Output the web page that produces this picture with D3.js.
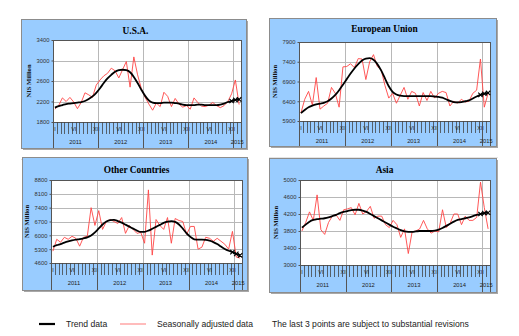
<!DOCTYPE html>
<html>
<head>
<meta charset="utf-8">
<script src="https://cdn.jsdelivr.net/npm/d3@7"></script>
<style>
  body { margin: 0; background: #fff; }
  svg { display: block; }
</style>
</head>
<body>
<div id="chart"></div>
<script>
// monthly categories, Jan 2011 .. Feb 2015
var years = ['2011', '2012', '2013', '2014', '2015'];
var monthsInYear = [12, 12, 12, 12, 2];
var romanLabels = [[0, 'I'], [5, 'VI'], [11, 'XII'], [17, 'VI'], [23, 'XII'],
  [29, 'VI'], [35, 'XII'], [41, 'VI'], [47, 'XII']];

var usaTrend = [2080, 2110, 2130, 2150, 2160, 2170, 2180, 2190, 2210, 2250, 2300, 2370,
  2460, 2560, 2650, 2720, 2780, 2810, 2820, 2810, 2770, 2680, 2560, 2430,
  2310, 2220, 2180, 2170, 2170, 2180, 2180, 2180, 2170, 2160, 2140, 2130,
  2130, 2130, 2140, 2140, 2130, 2130, 2130, 2130, 2140, 2160, 2190, 2210,
  2230, 2240];
var usaSeas = [2050, 2120, 2270, 2200, 2280, 2190, 2060, 2180, 2370, 2330, 2280, 2520,
  2620, 2700, 2750, 2850, 2800, 2660, 2820, 2980, 2480, 3070, 2720, 2450,
  2280, 2150, 2030, 2170, 2100, 2380, 2300, 2100, 2260, 2150, 2090, 2120,
  2050, 2270, 2180, 2110, 2100, 2130, 2180, 2120, 2080, 2120, 2200, 2350,
  2620, 2140];

var euTrend = [6100, 6180, 6250, 6290, 6320, 6340, 6360, 6400, 6470, 6560, 6680, 6820,
  6960, 7100, 7230, 7340, 7430, 7480, 7490, 7450, 7340, 7180, 6980, 6780,
  6640, 6570, 6540, 6530, 6530, 6530, 6530, 6530, 6530, 6530, 6530, 6520,
  6510, 6490, 6450, 6410, 6380, 6370, 6380, 6400, 6420, 6470, 6520, 6560,
  6590, 6610];
var euSeas = [6100, 6450, 6650, 6300, 7000, 6200, 6280, 6350, 6750, 6600, 6250, 7270,
  7280, 7350, 7250, 7480, 7470, 6950, 7400, 7580, 7280, 7200, 6800, 6480,
  6600, 6350, 6550, 6750, 6450, 6650, 6600, 6280, 6620, 6420, 6650, 6480,
  6600, 6650, 6620, 6280, 6400, 6350, 6450, 6380, 6400, 6600, 6680, 7470,
  6250, 6600];

var otherTrend = [5420, 5500, 5560, 5630, 5690, 5740, 5780, 5810, 5850, 5900, 5990, 6150,
  6350, 6550, 6700, 6770, 6780, 6720, 6640, 6540, 6440, 6340, 6240, 6170,
  6180, 6240, 6330, 6430, 6530, 6630, 6690, 6720, 6680, 6550, 6340, 6100,
  5920, 5800, 5780, 5780, 5770, 5730, 5660, 5560, 5430, 5310, 5220, 5150,
  5060, 4990];
var otherSeas = [5200, 5800, 5650, 5900, 5800, 5950, 5850, 5450, 5900, 5950, 7400, 6500,
  7250, 6300, 6700, 6800, 6700, 6600, 6900, 6100, 6500, 6300, 6100, 6150,
  5600, 8300, 5000, 6800, 6500, 6300, 6900, 5600, 6850, 6750, 6700, 6050,
  6450, 6450, 5300, 5400, 5900, 5850, 5700, 5850, 5700, 5550, 5300, 6200,
  4900, 4850];

var asiaTrend = [3880, 3950, 4020, 4060, 4080, 4090, 4100, 4120, 4150, 4180, 4220, 4250,
  4270, 4290, 4300, 4300, 4280, 4250, 4200, 4150, 4100, 4050, 4000, 3950,
  3900, 3860, 3820, 3790, 3780, 3780, 3790, 3800, 3800, 3800, 3800, 3810,
  3830, 3870, 3920, 3970, 4020, 4060, 4080, 4100, 4120, 4150, 4180, 4200,
  4220, 4230];
var asiaSeas = [3800, 4000, 4250, 4050, 4650, 3830, 3720, 4000, 4150, 4180, 4050, 4300,
  4320, 4350, 4180, 4450, 4200, 4260, 4380, 4100, 4150, 4150, 3950, 3880,
  4050, 3950, 3650, 3850, 3270, 3780, 3800, 3850, 4050, 3850, 3750, 3800,
  3780, 4300, 3880, 3980, 4200, 4200, 3950, 4150, 4050, 4050, 4120, 4950,
  4350, 3850];

var panels = [
  { title: 'U.S.A.', trend: usaTrend, seas: usaSeas, yTicks: [1800, 2200, 2600, 3000, 3400],
    box: [21, 19, 246, 148], plot: [53, 40, 241, 122], titleY: 31 },
  { title: 'European Union', trend: euTrend, seas: euSeas, yTicks: [5900, 6400, 6900, 7400, 7900],
    box: [269, 18, 496, 146], plot: [299, 42, 490, 121], titleY: 29 },
  { title: 'Other Countries', trend: otherTrend, seas: otherSeas,
    yTicks: [4600, 5300, 6000, 6700, 7400, 8100, 8800],
    box: [22, 157, 247, 290], plot: [51, 180, 242, 263], titleY: 170 },
  { title: 'Asia', trend: asiaTrend, seas: asiaSeas, yTicks: [3000, 3400, 3800, 4200, 4600, 5000],
    box: [269, 158, 496, 292], plot: [300, 180, 490, 265], titleY: 170 }
];

var width = 519, height = 336;
var svg = d3.select('#chart').append('svg')
  .attr('width', width)
  .attr('height', height);

var nMonths = d3.sum(monthsInYear);
var yearStarts = [];
monthsInYear.reduce(function (acc, n) { yearStarts.push(acc); return acc + n; }, 0);

panels.forEach(drawPanel);
drawLegend();

function drawPanel(p) {
  var g = svg.append('g');
  var bx = p.box, pl = p.plot;

  // faint frame line under the top row
  if (bx[1] < 100) {
    g.append('line')
      .attr('x1', bx[0]).attr('x2', bx[2] + 2)
      .attr('y1', bx[3] + 11.5).attr('y2', bx[3] + 11.5)
      .attr('stroke', '#e4e4e4');
  }

  // shadow + box
  g.append('rect')
    .attr('x', bx[0] + 2).attr('y', bx[1] + 2)
    .attr('width', bx[2] - bx[0]).attr('height', bx[3] - bx[1])
    .attr('fill', '#a8a8a8');
  g.append('rect')
    .attr('x', bx[0] + 0.5).attr('y', bx[1] + 0.5)
    .attr('width', bx[2] - bx[0]).attr('height', bx[3] - bx[1])
    .attr('fill', '#99ccff')
    .attr('stroke', '#8c8c8c')
    .attr('stroke-width', 1);

  var x = d3.scaleBand().domain(d3.range(nMonths)).range([pl[0], pl[2]]);
  var y = d3.scaleLinear()
    .domain([p.yTicks[0], p.yTicks[p.yTicks.length - 1]])
    .range([pl[3], pl[1]]);
  var cx = function (i) { return x(i) + x.bandwidth() / 2; };

  // plot area
  g.append('rect')
    .attr('x', pl[0]).attr('y', pl[1])
    .attr('width', pl[2] - pl[0]).attr('height', pl[3] - pl[1])
    .attr('fill', '#fff');

  // horizontal gridlines
  g.selectAll('.hgrid').data(p.yTicks).enter().append('line')
    .attr('x1', pl[0]).attr('x2', pl[2])
    .attr('y1', function (d) { return Math.round(y(d)) + 0.5; })
    .attr('y2', function (d) { return Math.round(y(d)) + 0.5; })
    .attr('stroke', '#b8b8b8').attr('stroke-width', 1);

  // vertical gridlines at year boundaries
  g.selectAll('.vgrid').data(yearStarts.slice(1)).enter().append('line')
    .attr('x1', function (d) { return Math.round(x(d)) + 0.5; })
    .attr('x2', function (d) { return Math.round(x(d)) + 0.5; })
    .attr('y1', pl[1]).attr('y2', pl[3])
    .attr('stroke', '#b8b8b8').attr('stroke-width', 1);

  g.append('rect')
    .attr('x', pl[0] + 0.5).attr('y', pl[1] + 0.5)
    .attr('width', pl[2] - pl[0]).attr('height', pl[3] - pl[1])
    .attr('fill', 'none')
    .attr('stroke', '#555').attr('stroke-width', 1);

  // y axis
  var yAxis = g.append('g')
    .attr('transform', 'translate(' + (pl[0] + 0.5) + ',0)')
    .call(d3.axisLeft(y).tickValues(p.yTicks).tickFormat(d3.format('d'))
      .tickSize(2).tickPadding(2));
  yAxis.select('.domain').remove();
  yAxis.selectAll('line').attr('stroke', '#555');
  yAxis.selectAll('text')
    .style('font-family', 'Liberation Sans, Arial, sans-serif')
    .style('font-size', '5.8px')
    .attr('fill', '#333');

  g.append('text')
    .attr('transform', 'translate(' + (pl[0] - 24) + ',' + ((pl[1] + pl[3]) / 2) + ') rotate(-90)')
    .attr('text-anchor', 'middle')
    .attr('dy', '0.35em')
    .style('font-family', 'Liberation Serif, Times New Roman, serif')
    .style('font-weight', 'bold')
    .style('font-size', '6.6px')
    .attr('fill', '#111')
    .text('NIS Million');

  // title
  g.append('text')
    .attr('x', (bx[0] + bx[2]) / 2 + 2)
    .attr('y', p.titleY)
    .attr('text-anchor', 'middle')
    .attr('dy', '0.35em')
    .style('font-family', 'Liberation Serif, Times New Roman, serif')
    .style('font-weight', 'bold')
    .style('font-size', '9.4px')
    .attr('fill', '#000')
    .text(p.title);

  // x axis: month ticks, roman labels, year bands
  var axisG = g.append('g');
  axisG.selectAll('.mtick').data(d3.range(nMonths + 1)).enter().append('line')
    .attr('x1', function (d) { return Math.round(d < nMonths ? x(d) : pl[2]) + 0.5; })
    .attr('x2', function (d) { return Math.round(d < nMonths ? x(d) : pl[2]) + 0.5; })
    .attr('y1', pl[3]).attr('y2', pl[3] + 12)
    .attr('stroke', '#444').attr('stroke-width', 0.8);

  axisG.selectAll('.roman').data(romanLabels).enter().append('text')
    .attr('x', function (d) { return cx(d[0]); })
    .attr('y', pl[3] + 7)
    .attr('text-anchor', 'middle')
    .attr('dy', '0.35em')
    .style('font-family', 'Liberation Sans, Arial, sans-serif')
    .style('font-size', '5.4px')
    .attr('fill', '#222')
    .text(function (d) { return d[1]; });

  var dividers = yearStarts.map(function (s) { return x(s); }).concat([pl[2]]);
  axisG.selectAll('.ydiv').data(dividers).enter().append('line')
    .attr('x1', function (d) { return Math.round(d) + 0.5; })
    .attr('x2', function (d) { return Math.round(d) + 0.5; })
    .attr('y1', pl[3]).attr('y2', bx[3])
    .attr('stroke', '#555').attr('stroke-width', 1);

  axisG.selectAll('.year').data(years).enter().append('text')
    .attr('x', function (d, i) {
      var s = yearStarts[i], e = s + monthsInYear[i] - 1;
      return (x(s) + x(e) + x.bandwidth()) / 2;
    })
    .attr('y', pl[3] + 20)
    .attr('text-anchor', 'middle')
    .attr('dy', '0.35em')
    .style('font-family', 'Liberation Sans, Arial, sans-serif')
    .style('font-size', '5.8px')
    .attr('fill', '#222')
    .text(function (d) { return d; });

  // series
  var line = d3.line()
    .x(function (d, i) { return cx(i); })
    .y(function (d) { return y(d); });

  g.append('path')
    .datum(p.seas)
    .attr('d', line)
    .attr('fill', 'none')
    .attr('stroke', '#ff4545')
    .attr('stroke-width', 0.9);

  g.append('path')
    .datum(p.trend)
    .attr('d', d3.line().curve(d3.curveMonotoneX)
      .x(function (d, i) { return cx(i); })
      .y(function (d) { return y(d); }))
    .attr('fill', 'none')
    .attr('stroke', '#000')
    .attr('stroke-width', 1.8);

  // last 3 points: x markers
  var lastIdx = d3.range(nMonths - 3, nMonths);
  g.selectAll('.mark').data(lastIdx).enter().append('path')
    .attr('d', function (i) {
      var px = cx(i), py = y(p.trend[i]), r = 2.2;
      return 'M' + (px - r) + ',' + (py - r) + 'L' + (px + r) + ',' + (py + r) +
        'M' + (px - r) + ',' + (py + r) + 'L' + (px + r) + ',' + (py - r);
    })
    .attr('stroke', '#000')
    .attr('stroke-width', 1.1)
    .attr('fill', 'none');
}

function drawLegend() {
  var lg = svg.append('g')
    .style('font-family', 'Liberation Sans, Arial, sans-serif')
    .style('font-size', '8.6px')
    .attr('fill', '#222');
  var ly = 324;
  lg.append('line')
    .attr('x1', 39).attr('x2', 55).attr('y1', ly).attr('y2', ly)
    .attr('stroke', '#000').attr('stroke-width', 2.2);
  lg.append('text').attr('x', 66).attr('y', ly).attr('dy', '0.35em').text('Trend data');
  lg.append('line')
    .attr('x1', 120).attr('x2', 146).attr('y1', ly).attr('y2', ly)
    .attr('stroke', '#ff9090').attr('stroke-width', 1.2);
  lg.append('text').attr('x', 157).attr('y', ly).attr('dy', '0.35em').text('Seasonally adjusted data');
  lg.append('text').attr('x', 272).attr('y', ly).attr('dy', '0.35em')
    .text('The last 3 points are subject to substantial revisions');
}
</script>
</body>
</html>
